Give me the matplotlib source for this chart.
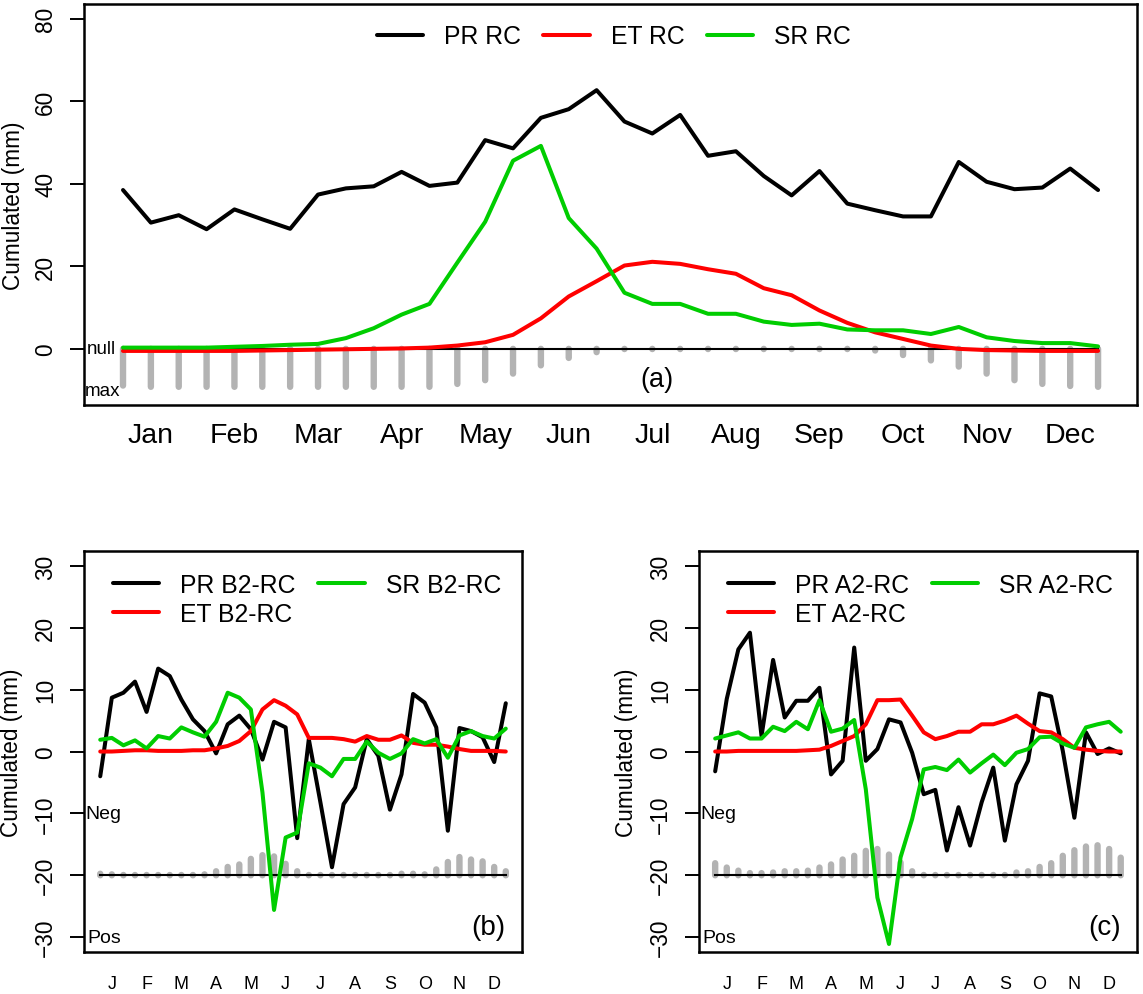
import numpy as np
import matplotlib.pyplot as plt
from matplotlib import transforms

plt.rcParams['font.family'] = ['Liberation Sans', 'DejaVu Sans']

# decades of the year (3 per month)
decade = np.arange(1, 37)
months = ["Jan", "Feb", "Mar", "Apr", "May", "Jun",
          "Jul", "Aug", "Sep", "Oct", "Nov", "Dec"]
months_short = ["J", "F", "M", "A", "M", "J", "J", "A", "S", "O", "N", "D"]

# (a) reference climate RC
pr_rc = [38.5, 30.6, 32.4, 29.0, 33.8, 31.4, 29.1, 37.4, 38.9, 39.4, 42.9, 39.5,
         40.3, 50.6, 48.6, 56.0, 58.1, 62.7, 55.1, 52.2, 56.7, 46.8, 47.9, 41.9,
         37.2, 43.1, 35.2, 33.6, 32.1, 32.1, 45.3, 40.5, 38.7, 39.1, 43.7, 38.5]
et_rc = [-0.5, -0.5, -0.5, -0.5, -0.5, -0.4, -0.3, -0.2, -0.1, 0.0, 0.1, 0.3,
         0.8, 1.6, 3.4, 7.4, 12.7, 16.4, 20.2, 21.1, 20.6, 19.3, 18.2, 14.7,
         13.0, 9.3, 6.3, 4.0, 2.4, 0.8, 0.0, -0.3, -0.4, -0.5, -0.5, -0.5]
sr_rc = [0.3, 0.3, 0.3, 0.3, 0.5, 0.7, 1.0, 1.2, 2.6, 5.0, 8.3, 10.9,
         20.9, 30.8, 45.6, 49.2, 31.7, 24.3, 13.6, 10.9, 10.9, 8.5, 8.5, 6.6,
         5.8, 6.1, 4.7, 4.5, 4.5, 3.6, 5.3, 2.8, 1.9, 1.4, 1.4, 0.6]
bar_rc = [8.9, 9.2, 9.2, 9.2, 9.2, 9.2, 9.2, 9.2, 9.2, 9.2, 9.2, 9.2,
          8.5, 7.6, 6.0, 4.0, 2.2, 0.8, 0.0, 0.0, 0.0, 0.0, 0.0, 0.0,
          0.0, 0.0, 0.0, 0.4, 1.5, 2.8, 4.3, 6.0, 7.6, 8.5, 9.0, 9.2]

# (b) B2 minus RC
pr_b2 = [-4.0, 8.7, 9.5, 11.3, 6.4, 13.4, 12.2, 8.4, 5.2, 3.3, -0.3, 4.4,
         5.8, 3.6, -1.3, 4.8, 3.9, -14.0, 2.0, -8.2, -18.7, -8.5, -5.8, 2.0,
         -0.7, -9.4, -3.7, 9.3, 7.9, 3.9, -12.8, 3.8, 3.3, 2.3, -1.7, 7.8]
et_b2 = [0.0, 0.0, 0.1, 0.2, 0.2, 0.1, 0.1, 0.1, 0.2, 0.2, 0.5, 0.9,
         1.7, 3.3, 6.8, 8.3, 7.4, 6.0, 2.2, 2.2, 2.2, 2.0, 1.6, 2.5,
         1.9, 1.9, 2.6, 1.4, 1.1, 1.1, 0.8, 0.4, 0.1, 0.1, 0.1, 0.0]
sr_b2 = [1.9, 2.2, 1.0, 1.8, 0.5, 2.5, 2.1, 3.9, 3.1, 2.4, 4.8, 9.5,
         8.7, 6.8, -6.6, -25.6, -13.9, -13.1, -1.9, -2.6, -4.0, -1.2, -1.2, 1.6,
         -0.2, -1.2, -0.3, 2.0, 1.3, 2.0, -1.0, 2.6, 3.3, 2.5, 2.1, 3.7]
bar_b2 = [0.25, 0.15, 0.05, 0.0, 0.0, 0.0, 0.05, 0.05, 0.05, 0.15, 0.65, 1.35,
          1.75, 2.65, 3.25, 3.05, 1.85, 0.65, 0.0, 0.0, 0.0, 0.0, 0.0, 0.0,
          0.0, 0.05, 0.25, 0.25, 0.15, 0.95, 2.15, 2.95, 2.55, 2.25, 1.35, 0.65]

# (c) A2 minus RC
pr_a2 = [-3.2, 8.5, 16.5, 19.2, 2.5, 14.8, 5.5, 8.2, 8.2, 10.3, -3.7, -1.5,
         16.8, -1.5, 0.4, 5.2, 4.7, -0.2, -6.9, -6.2, -16.0, -9.0, -15.2, -8.2,
         -2.6, -14.4, -5.3, -1.5, 9.4, 8.9, 0.1, -10.7, 3.1, -0.4, 0.5, -0.3]
et_a2 = [0.0, 0.0, 0.1, 0.1, 0.1, 0.1, 0.1, 0.1, 0.2, 0.3, 0.9, 1.7,
         2.5, 4.4, 8.3, 8.3, 8.4, 5.8, 3.1, 2.0, 2.5, 3.2, 3.2, 4.4,
         4.4, 5.0, 5.8, 4.5, 3.3, 3.1, 2.0, 0.6, 0.3, 0.1, 0.0, 0.0]
sr_a2 = [2.1, 2.6, 3.1, 2.1, 2.1, 4.0, 3.3, 4.8, 3.6, 8.3, 3.2, 3.7,
         5.1, -6.1, -23.6, -31.1, -17.1, -10.9, -2.9, -2.5, -3.0, -1.3, -3.4, -1.9,
         -0.5, -2.2, -0.2, 0.4, 2.3, 2.4, 1.3, 0.6, 3.9, 4.4, 4.8, 3.2]
bar_a2 = [1.95, 1.25, 0.75, 0.35, 0.35, 0.45, 0.65, 0.65, 0.75, 1.25, 1.75, 2.55,
          3.15, 3.95, 4.25, 3.35, 2.05, 0.65, 0.0, 0.0, 0.0, 0.0, 0.0, 0.0,
          0.0, 0.0, 0.45, 0.65, 1.35, 1.95, 3.15, 4.05, 4.65, 4.85, 4.25, 2.85]

GREEN = "#00CD00"
GREY = "#B3B3B3"
LW = 2.9
BAR_LW = 4.6

fig = plt.figure(figsize=(11.43, 9.95), dpi=100)
ax_a = fig.add_axes([0.0735, 0.592, 0.9213, 0.403])
ax_b = fig.add_axes([0.0735, 0.0422, 0.3832, 0.403])
ax_c = fig.add_axes([0.6115, 0.0422, 0.3832, 0.403])


def style_axes(ax, yticks, ylim, labels, lab_size, lab_pad, ylab_x):
    ax.set_xlim(1 - 1.4, 36 + 1.4)
    pad = 0.04 * (ylim[1] - ylim[0])
    ax.set_ylim(ylim[0] - pad, ylim[1] + pad)
    ax.set_yticks(yticks)
    ax.set_xticks(decade[1::3])
    ax.set_xticklabels(labels, fontsize=lab_size)
    ax.tick_params(axis='x', length=0, pad=lab_pad)
    ax.tick_params(axis='y', length=10, width=1.4, labelsize=16.3, pad=9.4)
    for lab in ax.get_yticklabels():
        lab.set_rotation(90)
        lab.set_va('center')
    for sp in ax.spines.values():
        sp.set_linewidth(1.8)
    ax.text(ylab_x, 0.5, "Cumulated (mm)", transform=ax.transAxes, rotation=90,
            ha='center', va='center', fontsize=16.3)


def grey_bars(ax, base, tops):
    # round-capped grey sticks; a zero value still shows as a dot
    bars = ax.vlines(decade, base, tops, colors=GREY, lw=BAR_LW)
    bars.set_capstyle('round')
    bars.set_snap(False)


def series(ax, pr, et, sr, name):
    kw = dict(lw=LW, solid_capstyle='round', solid_joinstyle='round')
    ax.plot(decade, pr, color='black', label="PR " + name, **kw)
    ax.plot(decade, et, color='red', label="ET " + name, **kw)
    ax.plot(decade, sr, color=GREEN, label="SR " + name, **kw)


# ---- panel (a)
grey_bars(ax_a, 0, -np.maximum(bar_rc, 0.05))
ax_a.plot(decade, np.zeros(36), color='black', lw=1.5)
series(ax_a, pr_rc, et_rc, sr_rc, "RC")
style_axes(ax_a, [0, 20, 40, 60, 80], (-10, 80), months, 20.5, 12.3, -0.0665)
trans = transforms.blended_transform_factory(ax_a.transAxes, ax_a.transData)
ax_a.text(0.003, 0, "null", transform=trans, ha='left', va='center', fontsize=13.5)
ax_a.text(0.001, -10, "max", transform=trans, ha='left', va='center', fontsize=13.5)
ax_a.text(0.544, 0.065, "(a)", transform=ax_a.transAxes, ha='center',
          va='center', fontsize=19.5)
ax_a.legend(loc='upper left', bbox_to_anchor=(0.278, 0.9496), ncol=3,
            frameon=False, fontsize=17.8, handlelength=1.88, handletextpad=0.85,
            columnspacing=0.9, borderpad=0, borderaxespad=0)


# ---- panels (b) and (c)
def diff_panel(ax, pr, et, sr, bar, tag, name):
    grey_bars(ax, -20, -20 + np.maximum(bar, 0.05))
    ax.plot(decade, np.full(36, -20.0), color='black', lw=1.5)
    series(ax, pr, et, sr, name)
    style_axes(ax, [-30, -20, -10, 0, 10, 20, 30], (-30, 30), months_short,
               13, 16.8, -0.165)
    tr = transforms.blended_transform_factory(ax.transAxes, ax.transData)
    ax.text(0.004, -10, "Neg", transform=tr, ha='left', va='center', fontsize=14)
    ax.text(0.008, -30, "Pos", transform=tr, ha='left', va='center', fontsize=14)
    ax.text(0.963, 0.062, tag, transform=ax.transAxes, ha='right', va='center',
            fontsize=20)
    ax.legend(loc='upper left', bbox_to_anchor=(0.066, 0.946), ncol=2,
              frameon=False, fontsize=17.8, handlelength=1.88, handletextpad=0.85,
              columnspacing=0.9, labelspacing=0.2, borderpad=0, borderaxespad=0)


diff_panel(ax_b, pr_b2, et_b2, sr_b2, bar_b2, "(b)", "B2-RC")
diff_panel(ax_c, pr_a2, et_a2, sr_a2, bar_a2, "(c)", "A2-RC")

fig.savefig("out.png", dpi=100)
